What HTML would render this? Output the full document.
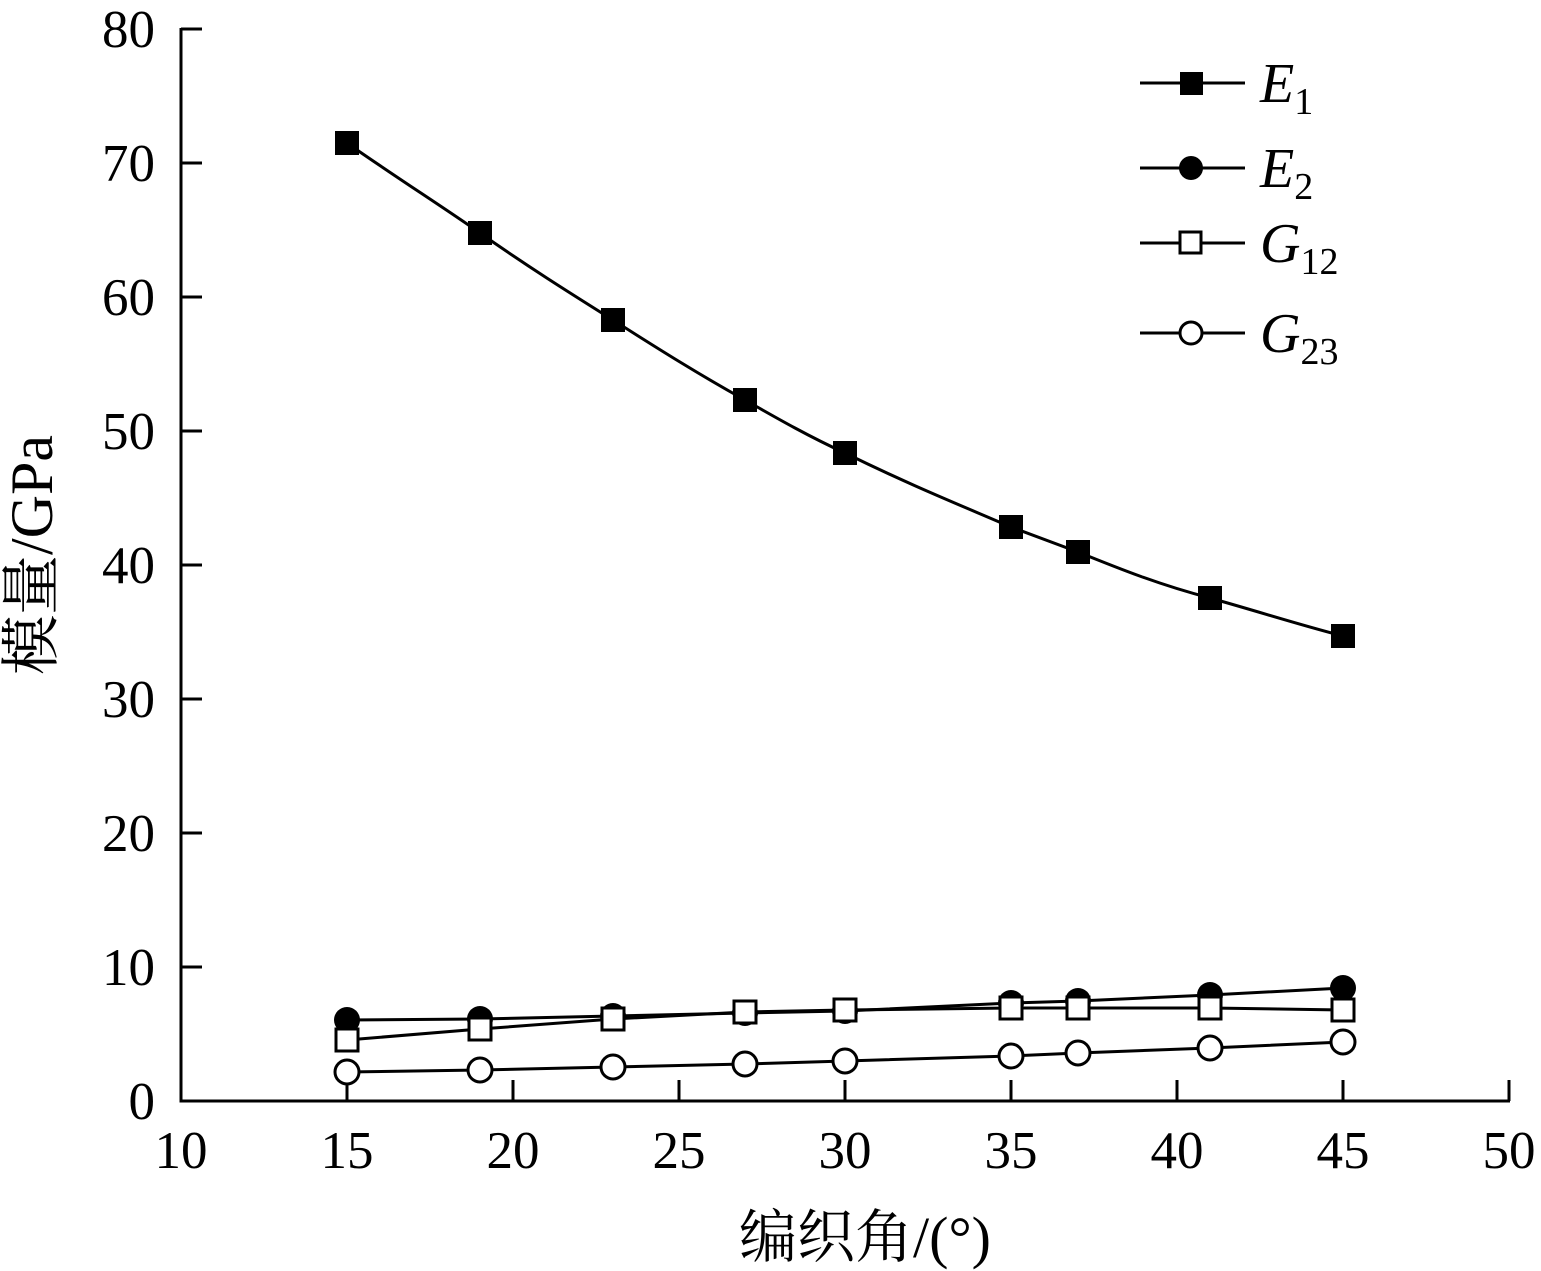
<!DOCTYPE html>
<html><head><meta charset="utf-8"><style>body{margin:0;background:#fff}</style></head><body>
<svg width="1541" height="1271" xmlns="http://www.w3.org/2000/svg" style="display:block">
<g font-family="Liberation Serif, serif" font-size="53" fill="#000">
<path d="M181,28 V1101 H1510" stroke="#000" stroke-width="3" fill="none"/>
<g stroke="#000" stroke-width="3">
<line x1="181" y1="29" x2="202" y2="29"/><line x1="181" y1="163" x2="202" y2="163"/><line x1="181" y1="297" x2="202" y2="297"/><line x1="181" y1="431" x2="202" y2="431"/><line x1="181" y1="565" x2="202" y2="565"/><line x1="181" y1="699" x2="202" y2="699"/><line x1="181" y1="833" x2="202" y2="833"/><line x1="181" y1="967" x2="202" y2="967"/>
<line x1="347" y1="1101" x2="347" y2="1080"/><line x1="513" y1="1101" x2="513" y2="1080"/><line x1="679" y1="1101" x2="679" y2="1080"/><line x1="845" y1="1101" x2="845" y2="1080"/><line x1="1011" y1="1101" x2="1011" y2="1080"/><line x1="1177" y1="1101" x2="1177" y2="1080"/><line x1="1343" y1="1101" x2="1343" y2="1080"/><line x1="1509" y1="1101" x2="1509" y2="1080"/>
</g>
<g text-anchor="end">
<text x="155" y="47">80</text><text x="155" y="181">70</text><text x="155" y="315">60</text><text x="155" y="449">50</text><text x="155" y="583">40</text><text x="155" y="717">30</text><text x="155" y="851">20</text><text x="155" y="985">10</text><text x="155" y="1119">0</text>
</g>
<g text-anchor="middle">
<text x="181" y="1168">10</text><text x="347" y="1168">15</text><text x="513" y="1168">20</text><text x="679" y="1168">25</text><text x="845" y="1168">30</text><text x="1011" y="1168">35</text><text x="1177" y="1168">40</text><text x="1343" y="1168">45</text><text x="1509" y="1168">50</text>
</g>
<text x="865" y="1257" text-anchor="middle" font-family="Liberation Serif, Noto Serif CJK SC, serif" font-size="58">编织角/(°)</text>
<text transform="translate(52,555) rotate(-90)" text-anchor="middle" font-family="Liberation Serif, Noto Serif CJK SC, serif" font-size="60">模量/GPa</text>
</g>
<g stroke="#000" stroke-width="3" fill="none">
<path d="M347,143 C400,180 440,205 480,233 C530,268 570,293 613,320 C660,350 700,375 745,400 C780,420 810,437 845,453 C910,485 960,505 1011,527 L1078,552 C1120,569 1160,585 1210,598 C1260,612 1300,625 1343,636"/>
<polyline points="347,1020 480,1019 613,1016 745,1013 845,1011 1011,1003 1078,1001 1210,995 1343,988"/>
<polyline points="347,1040 480,1029 613,1019 745,1012 845,1010 1011,1008 1078,1008 1210,1008 1343,1010"/>
<polyline points="347,1072 480,1070 613,1067 745,1064 845,1061 1011,1056 1078,1053 1210,1048 1343,1042"/>
</g>
<g fill="#000">
<rect x="335" y="131" width="24" height="24"/><rect x="468" y="221" width="24" height="24"/><rect x="601" y="308" width="24" height="24"/><rect x="733" y="388" width="24" height="24"/><rect x="833" y="441" width="24" height="24"/><rect x="999" y="515" width="24" height="24"/><rect x="1066" y="540" width="24" height="24"/><rect x="1198" y="586" width="24" height="24"/><rect x="1331" y="624" width="24" height="24"/>
<circle cx="347" cy="1020" r="13"/><circle cx="480" cy="1019" r="13"/><circle cx="613" cy="1016" r="13"/><circle cx="745" cy="1013" r="13"/><circle cx="845" cy="1011" r="13"/><circle cx="1011" cy="1003" r="13"/><circle cx="1078" cy="1001" r="13"/><circle cx="1210" cy="995" r="13"/><circle cx="1343" cy="988" r="13"/>
</g>
<g fill="#fff" stroke="#000" stroke-width="3">
<rect x="336" y="1029" width="22" height="22"/><rect x="469" y="1018" width="22" height="22"/><rect x="602" y="1008" width="22" height="22"/><rect x="734" y="1001" width="22" height="22"/><rect x="834" y="999" width="22" height="22"/><rect x="1000" y="997" width="22" height="22"/><rect x="1067" y="997" width="22" height="22"/><rect x="1199" y="997" width="22" height="22"/><rect x="1332" y="999" width="22" height="22"/>
<circle cx="347" cy="1072" r="12"/><circle cx="480" cy="1070" r="12"/><circle cx="613" cy="1067" r="12"/><circle cx="745" cy="1064" r="12"/><circle cx="845" cy="1061" r="12"/><circle cx="1011" cy="1056" r="12"/><circle cx="1078" cy="1053" r="12"/><circle cx="1210" cy="1048" r="12"/><circle cx="1343" cy="1042" r="12"/>
</g>
<g stroke="#000" stroke-width="3">
<line x1="1140" y1="83" x2="1245" y2="83"/><line x1="1140" y1="168" x2="1245" y2="168"/><line x1="1140" y1="243" x2="1245" y2="243"/><line x1="1140" y1="333" x2="1245" y2="333"/>
</g>
<rect x="1180" y="72" width="23" height="23" fill="#000"/>
<circle cx="1191" cy="168" r="12" fill="#000"/>
<rect x="1180" y="232" width="21" height="21" fill="#fff" stroke="#000" stroke-width="3"/>
<circle cx="1191" cy="333" r="11" fill="#fff" stroke="#000" stroke-width="3"/>
<g font-family="Liberation Serif, serif" font-size="56" fill="#000">
<text x="1260" y="102"><tspan font-style="italic">E</tspan><tspan font-size="38" dy="12">1</tspan></text>
<text x="1260" y="187"><tspan font-style="italic">E</tspan><tspan font-size="38" dy="12">2</tspan></text>
<text x="1260" y="262"><tspan font-style="italic">G</tspan><tspan font-size="38" dy="12">12</tspan></text>
<text x="1260" y="352"><tspan font-style="italic">G</tspan><tspan font-size="38" dy="12">23</tspan></text>
</g>
</svg>
</body></html>
